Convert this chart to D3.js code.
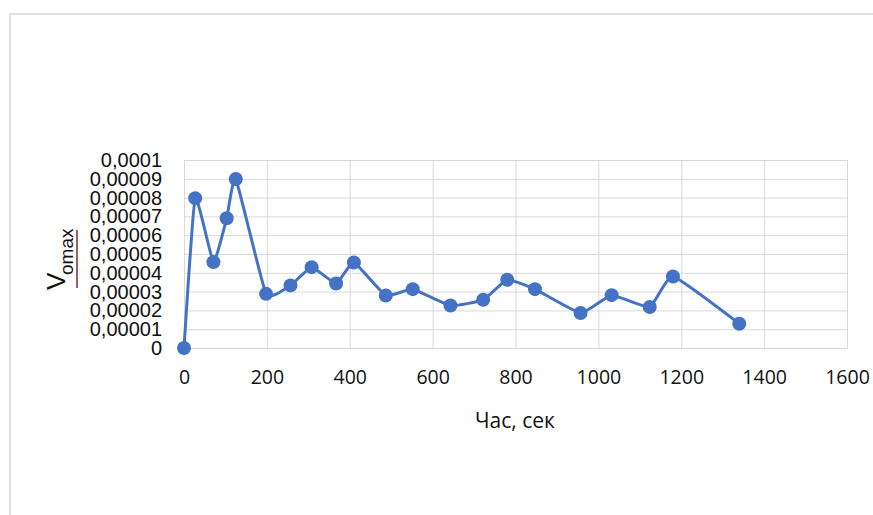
<!DOCTYPE html>
<html>
<head>
<meta charset="utf-8">
<script src="https://cdn.jsdelivr.net/npm/d3@7"></script>
<style>
  html, body { margin: 0; padding: 0; background: #fff; }
  svg { display: block; }
</style>
</head>
<body>
<svg id="chart" width="873" height="515"></svg>
<script>
// Measured time points (s) and the corresponding V_omax values
const times = [0, 27, 71, 103, 125, 198, 257, 308, 367, 410, 487, 552, 643, 722, 780, 847, 957, 1032, 1124, 1180, 1340];
const values = [0, 0.0000797, 0.0000457, 0.000069, 0.0000899, 0.0000288, 0.0000333, 0.000043, 0.0000343,
                0.0000455, 0.0000279, 0.0000313, 0.0000226, 0.0000256, 0.0000363, 0.0000313, 0.0000186,
                0.0000281, 0.0000218, 0.000038, 0.0000129];
const xTicks = [0, 200, 400, 600, 800, 1000, 1200, 1400, 1600];
const yTicks = [0, 0.00001, 0.00002, 0.00003, 0.00004, 0.00005, 0.00006, 0.00007, 0.00008, 0.00009, 0.0001];
const yTickLabels = ["0", "0,00001", "0,00002", "0,00003", "0,00004", "0,00005", "0,00006", "0,00007", "0,00008", "0,00009", "0,0001"];
const xTitle = "Час, сек";

const svg = d3.select("#chart");
const plot = { left: 184, right: 847, top: 160, bottom: 348 };
const blue = "#4472c4";
const grid = "#d9d9d9";

// outer chart frame
svg.append("rect")
  .attr("x", 10).attr("y", 14).attr("width", 880).attr("height", 520)
  .attr("fill", "none").attr("stroke", "#dedede").attr("stroke-width", 2);

const x = d3.scaleLinear().domain([0, 1600]).range([plot.left, plot.right]);
const y = d3.scaleLinear().domain([0, 0.0001]).range([plot.bottom, plot.top]);

// horizontal gridlines
svg.append("g")
  .attr("transform", `translate(${plot.left},0)`)
  .call(d3.axisLeft(y).tickValues(yTicks).tickSize(-(plot.right - plot.left)).tickFormat(""))
  .call(g => g.select(".domain").remove())
  .call(g => g.selectAll("line").attr("stroke", grid).attr("stroke-width", 1));

// vertical gridlines
svg.append("g")
  .attr("transform", `translate(0,${plot.bottom})`)
  .call(d3.axisBottom(x).tickValues(xTicks).tickSize(-(plot.bottom - plot.top)).tickFormat(""))
  .call(g => g.select(".domain").remove())
  .call(g => g.selectAll("line").attr("stroke", grid).attr("stroke-width", 1));

// y tick labels
svg.append("g")
  .attr("transform", `translate(${plot.left},0)`)
  .call(d3.axisLeft(y).tickValues(yTicks).tickSize(0).tickPadding(22)
    .tickFormat((d, i) => yTickLabels[i]))
  .call(g => g.select(".domain").remove())
  .call(g => g.selectAll("text")
    .attr("font-family", "Liberation Sans, Arial, sans-serif")
    .attr("font-size", 20).attr("fill", "#111"));

// x tick labels
svg.append("g")
  .attr("transform", `translate(0,${plot.bottom})`)
  .call(d3.axisBottom(x).tickValues(xTicks).tickSize(0).tickPadding(22).tickFormat(d3.format("d")))
  .call(g => g.select(".domain").attr("stroke", grid))
  .call(g => g.selectAll("text")
    .attr("font-family", "Open Sans, sans-serif")
    .attr("font-size", 19.5).attr("fill", "#111"));

// x axis title
svg.append("text")
  .attr("x", 515).attr("y", 428)
  .attr("text-anchor", "middle")
  .attr("font-family", "Open Sans, sans-serif")
  .attr("font-size", 21).attr("fill", "#111")
  .text(xTitle);

// y axis title: V with underlined subscript "omax"
const yt = svg.append("g").attr("transform", "translate(65,290) rotate(-90)");
yt.append("text")
  .attr("x", 0).attr("y", 0)
  .attr("font-family", "Liberation Sans, Arial, sans-serif")
  .attr("font-size", 26).attr("fill", "#111")
  .text("V");
yt.append("text")
  .attr("x", 15).attr("y", 8)
  .attr("font-family", "Liberation Sans, Arial, sans-serif")
  .attr("font-size", 19).attr("fill", "#111")
  .text("omax");
yt.append("line")
  .attr("x1", 2).attr("x2", 60).attr("y1", 12).attr("y2", 12)
  .attr("stroke", "#7a2a2a").attr("stroke-width", 1.5);

// data
const pts = times.map((t, i) => ({ t, v: values[i] }));

const line = d3.line()
  .x(d => x(d.t)).y(d => y(d.v))
  .curve(d3.curveCardinal.tension(0.6));

svg.append("path")
  .datum(pts)
  .attr("d", line)
  .attr("fill", "none")
  .attr("stroke", blue)
  .attr("stroke-width", 3);

svg.append("g").selectAll("circle")
  .data(pts).join("circle")
  .attr("cx", d => x(d.t)).attr("cy", d => y(d.v))
  .attr("r", 7)
  .attr("fill", blue);
</script>
</body>
</html>
